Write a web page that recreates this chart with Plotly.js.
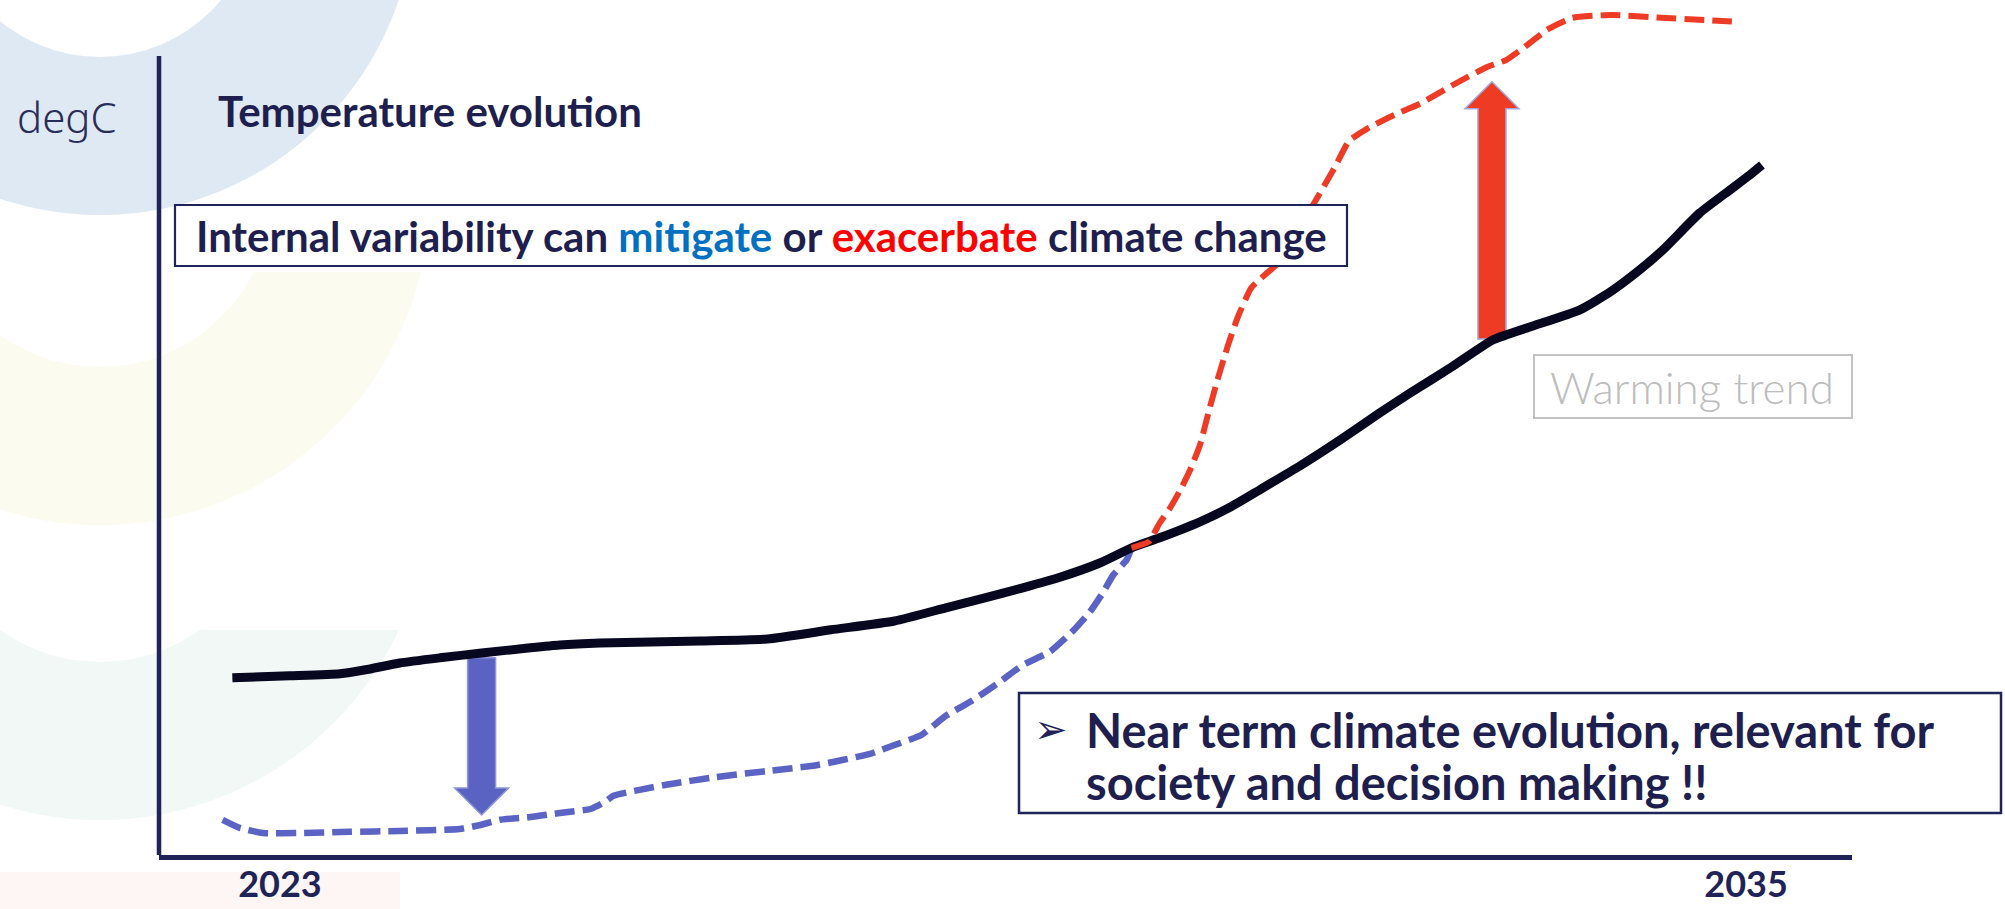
<!DOCTYPE html>
<html>
<head>
<meta charset="utf-8">
<script src="https://cdn.plot.ly/plotly-3.0.1.min.js"></script>
<style>
  html, body { margin: 0; padding: 0; background: #ffffff; }
  #chart { width: 2005px; height: 909px; }
</style>
</head>
<body>
<div id="chart"></div>
<script>
// ---------------- data ----------------
const tickYears = [2023, 2035];
const tickLabels = ['2023', '2035'];

// warming trend (solid black)
const trendYears = [2022.61, 2023.08, 2023.49, 2023.70, 2023.98, 2024.31, 2024.65, 2025.05, 2025.29, 2025.62,
  2026.44, 2026.99, 2027.51, 2028.03, 2028.45, 2028.77, 2029.08, 2029.39, 2029.71, 2029.97,
  2030.20, 2030.53, 2030.78, 2031.02, 2031.35, 2031.68, 2032.00, 2032.25, 2032.58, 2032.93,
  2033.23, 2033.64, 2033.89, 2034.13, 2034.32, 2034.62, 2034.87, 2035.03, 2035.13];
const trendTemp = [0.448, 0.453, 0.458, 0.468, 0.485, 0.498, 0.510, 0.523, 0.530, 0.535,
  0.540, 0.545, 0.568, 0.590, 0.623, 0.648, 0.673, 0.700, 0.735, 0.773,
  0.798, 0.838, 0.875, 0.918, 0.978, 1.043, 1.110, 1.160, 1.223, 1.293,
  1.325, 1.368, 1.413, 1.468, 1.518, 1.610, 1.668, 1.705, 1.730];

// variability mitigating warming (blue dashed)
const mitigateYears = [2022.53, 2022.67, 2022.86, 2023.16, 2023.57, 2023.98, 2024.47, 2024.64, 2024.80, 2025.05,
  2025.29, 2025.54, 2025.66, 2025.73, 2026.15, 2026.57, 2026.99, 2027.40, 2027.83, 2028.03,
  2028.25, 2028.45, 2028.66, 2028.87, 2029.08, 2029.30, 2029.50, 2029.63, 2029.74, 2029.82,
  2029.93, 2029.97];
const mitigateTemp = [0.093, 0.073, 0.060, 0.060, 0.063, 0.065, 0.070, 0.080, 0.093, 0.100,
  0.110, 0.120, 0.138, 0.153, 0.180, 0.200, 0.215, 0.230, 0.258, 0.280,
  0.305, 0.353, 0.390, 0.433, 0.480, 0.513, 0.568, 0.613, 0.663, 0.705,
  0.743, 0.773];

// variability exacerbating warming (red dashed)
const exacerbateYears = [2029.97, 2030.11, 2030.20, 2030.29, 2030.37, 2030.45, 2030.53, 2030.61, 2030.68, 2030.76,
  2030.84, 2030.95, 2031.06, 2031.18, 2031.31, 2031.49, 2031.64, 2031.75, 2031.91, 2032.12,
  2032.33, 2032.60, 2032.88, 2033.04, 2033.23, 2033.37, 2033.58, 2033.90, 2034.31, 2034.62,
  2034.93];
const exacerbateTemp = [0.773, 0.788, 0.835, 0.875, 0.918, 0.968, 1.030, 1.123, 1.200, 1.280,
  1.350, 1.423, 1.455, 1.488, 1.555, 1.648, 1.728, 1.790, 1.823, 1.855,
  1.883, 1.930, 1.975, 1.993, 2.035, 2.068, 2.098, 2.105, 2.098, 2.093,
  2.088];

// block arrows: year, start value, end value
const arrowYears = [2024.65, 2032.92];
const arrowFrom  = [0.498, 1.295];
const arrowTo    = [0.105, 1.938];
const arrowFill  = ['#5b63c2', '#ee3b24'];
const arrowEdge  = ['#8f95d8', '#a3a8dc'];

// ---------------- layout geometry ----------------
const W = 2005, H = 909;
const L = 159, R = 1852, T = 0, B = 855;
const xRange = [2022.0096, 2035.867];
const yRange = [0.005, 2.1425];
const yAxisTop = 2.0025;
const pxPerUnitY = (B - T) / (yRange[1] - yRange[0]);

function px2x(px) { return (px - L) / (R - L); }
function py2y(py) { return (B - py) / (B - T); }

const NAVY = '#1f2358';
const TEXT = '#1e1f4f';

function circle(cx, cy, r, color) {
  return { type: 'circle', xref: 'paper', yref: 'paper', layer: 'below',
    x0: px2x(cx - r), x1: px2x(cx + r), y0: py2y(cy + r), y1: py2y(cy - r),
    fillcolor: color, line: { width: 0 } };
}
function rect(x0, y0, x1, y1, fill, lineColor, lineWidth, layer) {
  return { type: 'rect', xref: 'paper', yref: 'paper', layer: layer || 'below',
    x0: px2x(x0), x1: px2x(x1), y0: py2y(y1), y1: py2y(y0),
    fillcolor: fill, line: { width: lineWidth || 0, color: lineColor || 'rgba(0,0,0,0)' } };
}

const shapes = [];
// decorative background rings
shapes.push(circle(100, 490, 330, '#f2f8f6'));
shapes.push(circle(100, 490, 172, '#ffffff'));
shapes.push(rect(-10, 100, 460, 630, '#ffffff'));
shapes.push(circle(100, 195, 330, '#fbfbef'));
shapes.push(circle(100, 195, 172, '#ffffff'));
shapes.push(rect(-10, -200, 460, 272, '#ffffff'));
shapes.push(circle(100, -100, 315, '#dfe9f4'));
shapes.push(circle(100, -100, 157, '#ffffff'));
shapes.push(rect(0, 872, 400, 909, '#fdf6f4'));

// block arrows built from the arrow arrays
const shaftHalf = 14, headHalf = 27, headLenPx = 27;
for (let i = 0; i < arrowYears.length; i++) {
  const dir = arrowTo[i] > arrowFrom[i] ? 1 : -1;
  const neck = arrowTo[i] - dir * headLenPx / pxPerUnitY;
  const f = arrowFrom[i], t = arrowTo[i];
  const path = `M ${-shaftHalf},${f} L ${shaftHalf},${f} L ${shaftHalf},${neck} L ${headHalf},${neck} ` +
               `L 0,${t} L ${-headHalf},${neck} L ${-shaftHalf},${neck} Z`;
  shapes.push({ type: 'path', xref: 'x', yref: 'y', xsizemode: 'pixel', xanchor: arrowYears[i],
    path: path, fillcolor: arrowFill[i], line: { color: arrowEdge[i], width: 1.5 }, layer: 'below' });
}

// vertical axis line
shapes.push({ type: 'line', xref: 'paper', yref: 'y', x0: 0, x1: 0, y0: yRange[0], y1: yAxisTop,
  line: { color: NAVY, width: 4.5 }, layer: 'above' });

// text boxes
shapes.push(rect(175, 205, 1347, 266, '#ffffff', NAVY, 2.2, 'above'));
shapes.push(rect(1019, 693, 2001, 813, '#ffffff', NAVY, 2.5, 'above'));
shapes.push(rect(1534, 355, 1852, 418, '#ffffff', '#c2c2c2', 2, 'above'));

const annotations = [
  { text: 'degC', xref: 'paper', yref: 'paper', x: px2x(67), y: py2y(116),
    xanchor: 'center', yanchor: 'middle', showarrow: false,
    font: { family: 'Noto Sans', size: 42, weight: 300, color: '#2a2d5a' } },
  { text: 'Internal variability can <span style="color:#0070c0">mitigate</span> or ' +
          '<span style="color:#ff0000">exacerbate</span> climate change',
    xref: 'paper', yref: 'paper', x: px2x(761), y: py2y(236),
    xanchor: 'center', yanchor: 'middle', showarrow: false,
    font: { family: 'Lato', size: 42, weight: 'bold', color: TEXT } },
  { text: '➢', xref: 'paper', yref: 'paper', x: px2x(1051), y: py2y(729),
    xanchor: 'center', yanchor: 'middle', showarrow: false,
    font: { family: 'DejaVu Sans', size: 40, color: NAVY } },
  { text: 'Near term climate evolution, relevant for',
    xref: 'paper', yref: 'paper', x: px2x(1084), y: py2y(730),
    xanchor: 'left', yanchor: 'middle', align: 'left', showarrow: false,
    font: { family: 'Lato', size: 47, weight: 'bold', color: TEXT } },
  { text: 'society and decision making !!',
    xref: 'paper', yref: 'paper', x: px2x(1084), y: py2y(782),
    xanchor: 'left', yanchor: 'middle', align: 'left', showarrow: false,
    font: { family: 'Lato', size: 47, weight: 'bold', color: TEXT } },
  { text: 'Warming trend', xref: 'paper', yref: 'paper', x: px2x(1692), y: py2y(387),
    xanchor: 'center', yanchor: 'middle', showarrow: false,
    font: { family: 'Lato', size: 44, weight: 300, color: '#bdbdbd' } }
];

const traces = [
  { x: mitigateYears, y: mitigateTemp, type: 'scatter', mode: 'lines', name: 'mitigate',
    line: { color: '#5b63c4', width: 6.5, dash: '20px,8px', shape: 'spline', smoothing: 0.5 }, hoverinfo: 'skip' },
  { x: trendYears, y: trendTemp, type: 'scatter', mode: 'lines', name: 'Warming trend',
    line: { color: '#07071f', width: 9, shape: 'spline', smoothing: 0.5 }, hoverinfo: 'skip' },
  { x: exacerbateYears, y: exacerbateTemp, type: 'scatter', mode: 'lines', name: 'exacerbate',
    line: { color: '#ee3b25', width: 6, dash: '20px,8px', shape: 'spline', smoothing: 0.5 }, hoverinfo: 'skip' }
];

const layout = {
  width: W, height: H,
  margin: { l: L, r: W - R, t: T, b: H - B, pad: 0 },
  paper_bgcolor: '#ffffff', plot_bgcolor: 'rgba(0,0,0,0)',
  showlegend: false,
  title: { text: 'Temperature evolution', xref: 'paper', x: px2x(218), xanchor: 'left',
    yref: 'container', y: 1 - 112 / H, yanchor: 'middle',
    font: { family: 'Lato', size: 42, weight: 'bold', color: TEXT } },
  xaxis: { range: xRange, showgrid: false, zeroline: false, showline: true,
    linecolor: NAVY, linewidth: 4.5, ticks: '', tickvals: tickYears, ticktext: tickLabels,
    tickfont: { family: 'Lato', size: 36, weight: 'bold', color: NAVY }, ticklabelstandoff: -6,
    fixedrange: true },
  yaxis: { range: yRange, showgrid: false, zeroline: false, showline: false,
    showticklabels: false, ticks: '', fixedrange: true },
  shapes: shapes,
  annotations: annotations
};

Plotly.newPlot('chart', traces, layout, { staticPlot: true, displayModeBar: false });
</script>
</body>
</html>
